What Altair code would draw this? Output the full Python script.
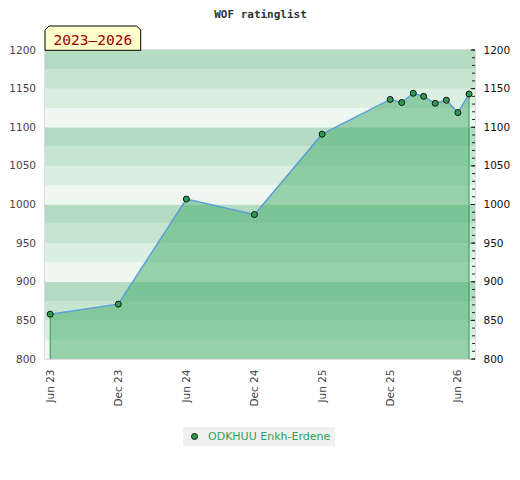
import altair as alt
import pandas as pd

# ---- data ----
dates = ["2023-06-01", "2023-12-01", "2024-06-01", "2024-12-01", "2025-06-01",
         "2025-12-01", "2026-01-01", "2026-02-01", "2026-03-01", "2026-04-01",
         "2026-05-01", "2026-06-01", "2026-07-01"]
ratings = [858, 871, 1007, 987, 1091, 1136, 1132, 1144, 1140, 1131, 1135, 1119, 1143]
player = "ODKHUU Enkh-Erdene"

title_text = "WOF ratinglist"
period_label = "2023\u20132026"

y_major = list(range(800, 1201, 50))
y_minor = list(range(800, 1201, 10))
x_tick_dates = [(2023, 6), (2023, 12), (2024, 6), (2024, 12), (2025, 6), (2025, 12), (2026, 6)]
band_edges = list(range(800, 1200, 25))
band_colors = ["#eef7f1", "#daeee1", "#c6e5d1", "#b3dcc2"]

W, H = 430, 309

df = pd.DataFrame({"date": dates, "rating": ratings, "player": player})
edges = df.iloc[[0, len(df) - 1]].reset_index(drop=True)
bands = pd.DataFrame({
    "lo": band_edges,
    "hi": [b + 25 for b in band_edges],
    "shade": [(b % 100) // 25 for b in band_edges],
})
ticks_df = pd.DataFrame({"tick": y_minor})
one = pd.DataFrame({"k": [0]})

yscale = alt.Scale(domain=[800, 1200], nice=False, zero=False)
xscale = alt.Scale(type="utc", domain=[alt.DateTime(year=2023, month=5, date=18, utc=True),
                                       alt.DateTime(year=2026, month=7, date=17, utc=True)])
xaxis = alt.Axis(values=[alt.DateTime(year=y, month=m, date=1, utc=True) for y, m in x_tick_dates],
                 format="%b %y", labelAngle=-90, ticks=False, domain=False, grid=False,
                 labelColor="#444", labelFontSize=10.5, labelPadding=10, labelFlush=False,
                 labelOverlap=False, title=None)
xenc = alt.X("date:T", scale=xscale, axis=xaxis)

left_axis = alt.Axis(values=y_major, orient="left", format="d", ticks=False, domain=False,
                     grid=False, labelColor="#444", labelFontSize=10.5, labelPadding=9.5,
                     title=None)
right_axis = alt.Axis(values=y_major, orient="right", format="d", ticks=False, domain=False,
                      grid=False, labelColor="#111", labelFontSize=10.5, labelPadding=8,
                      title=None)

bands_layer = alt.Chart(bands).mark_rect().encode(
    x=alt.value(0), x2=alt.value(W),
    y=alt.Y("lo:Q", scale=yscale, axis=left_axis),
    y2="hi:Q",
    color=alt.Color("shade:O", scale=alt.Scale(domain=[0, 1, 2, 3], range=band_colors), legend=None),
)

area_layer = alt.Chart(df).mark_area(color="#46ae6b", opacity=0.52).encode(
    x=xenc, y=alt.Y("rating:Q", scale=yscale, axis=None), y2=alt.datum(800)
)

edge_layer = alt.Chart(edges).mark_rule(color="#2e9e50", strokeWidth=1).encode(
    x=xenc, y=alt.Y("rating:Q", scale=yscale, axis=None), y2=alt.datum(800)
)

line_layer = alt.Chart(df).mark_line(color="#5b9fd6", strokeWidth=1.5).encode(
    x=xenc, y=alt.Y("rating:Q", scale=yscale, axis=None)
)

point_layer = alt.Chart(df).mark_circle(size=36, stroke="#111", strokeWidth=1, opacity=1).encode(
    x=xenc, y=alt.Y("rating:Q", scale=yscale, axis=None),
    fill=alt.Fill("player:N", scale=alt.Scale(range=["#2e9d50"]),
                  legend=alt.Legend(orient="none", legendX=138, legendY=377, title=None,
                                    fillColor="#f0f0f0", padding=4, symbolType="circle",
                                    symbolSize=36, symbolStrokeColor="#111", symbolStrokeWidth=1,
                                    symbolOffset=2, labelOffset=8, labelFont="DejaVu Sans",
                                    labelFontSize=11, labelColor="#2ea25a")),
)

minor_layer = alt.Chart(ticks_df).mark_rule(color="#222", strokeWidth=1).encode(
    x=alt.value(W - 3), x2=alt.value(W),
    y=alt.Y("tick:Q", scale=yscale, axis=right_axis),
)
major_layer = alt.Chart(ticks_df).transform_filter("datum.tick % 50 == 0").mark_rule(
    color="#222", strokeWidth=1).encode(
    x=alt.value(W - 4.5), x2=alt.value(W),
    y=alt.Y("tick:Q", scale=yscale, axis=None),
)

TAB_PATH = "M-1,0.254L-1,-0.17L-0.916,-0.254L0.916,-0.254L1,-0.17L1,0.254Z"
tab_layer = alt.Chart(one).mark_point(shape=TAB_PATH, size=95.7 ** 2, fill="#ffffcc",
                                      stroke="#000", strokeWidth=1, opacity=1,
                                      fillOpacity=1, strokeOpacity=1).encode(
    x=alt.value(47.85), y=alt.value(-11.85)
)
tab_text = alt.Chart(one).mark_text(text=period_label, font="DejaVu Sans Mono", fontSize=14.5,
                                    color="#990000", baseline="alphabetic", align="center").encode(
    x=alt.value(47.85), y=alt.value(-4.7)
)
title_layer = alt.Chart(one).mark_text(text=title_text, font="DejaVu Sans Mono", fontSize=11,
                                       fontWeight="bold", color="#333", baseline="alphabetic",
                                       align="center").encode(
    x=alt.value(W / 2 + 0.5), y=alt.value(-31.8)
)

chart = alt.layer(
    bands_layer, area_layer, edge_layer, line_layer, point_layer,
    minor_layer, major_layer, tab_layer, tab_text, title_layer,
).resolve_scale(y="independent").properties(
    width=W, height=H,
    autosize=alt.AutoSizeParams(type="none"),
    padding={"left": 37, "top": 42, "right": 37, "bottom": 113},
).configure_view(stroke="#d4d4d4", strokeWidth=1.5).configure_axis(
    labelFont="DejaVu Sans", labelFontSize=10.5
)

chart.save("out.html", embed_options={"renderer": "svg", "actions": False})
